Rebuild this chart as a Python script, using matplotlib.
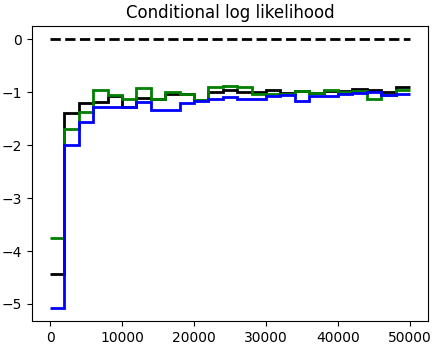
import matplotlib
matplotlib.use("Agg")
import matplotlib.pyplot as plt
import numpy as np

# bin edges (x) and step values for each series
edges = np.arange(0, 50001, 2000)
black = [-4.43, -1.40, -1.21, -1.18, -1.08, -1.27, -1.10, -1.12, -1.03, -1.04,
         -1.14, -0.99, -0.96, -0.99, -1.00, -0.95, -1.02, -0.98, -1.02, -0.98,
         -0.97, -0.94, -0.96, -0.99, -0.90]
green = [-3.75, -1.70, -1.38, -0.96, -1.05, -1.12, -0.92, -1.12, -0.99, -1.03,
         -1.15, -0.90, -0.88, -0.90, -1.03, -1.03, -1.03, -0.98, -1.01, -0.95,
         -1.00, -0.98, -1.12, -1.06, -0.95]
blue = [-5.07, -2.00, -1.57, -1.27, -1.27, -1.27, -1.19, -1.34, -1.34, -1.21,
        -1.16, -1.12, -1.09, -1.12, -1.12, -1.08, -1.06, -1.16, -1.08, -1.08,
        -1.04, -1.01, -0.99, -1.06, -1.04]
ref_x = [0, 50000]
ref_y = [0, 0]

fig = plt.figure(figsize=(4.39, 3.48), dpi=100)
ax = fig.add_axes([0.073, 0.078, 0.902, 0.847])

ax.plot(ref_x, ref_y, 'k--', linewidth=2)
ax.stairs(black, edges, color='black', linewidth=2, baseline=None)
ax.stairs(green, edges, color='green', linewidth=2, baseline=None)
ax.stairs(blue, edges, color='blue', linewidth=2, baseline=None)

ax.set_xlim(-2500, 52500)
ax.set_ylim(-5.32, 0.25)
ax.set_xticks([0, 10000, 20000, 30000, 40000, 50000])
ax.set_yticks([0, -1, -2, -3, -4, -5])
ax.set_title("Conditional log likelihood")

fig.savefig("out.png", dpi=100)
